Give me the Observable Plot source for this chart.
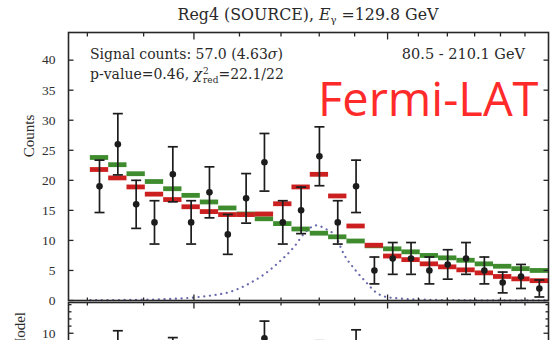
<!DOCTYPE html>
<html><head><meta charset="utf-8">
<script src="https://cdn.jsdelivr.net/npm/d3@7"></script>
<script src="https://cdn.jsdelivr.net/npm/@observablehq/plot@0.6"></script>
<style>
body{margin:0;background:#fff;}
#wrap{position:relative;width:559px;height:340px;overflow:hidden;background:#fff;font-family:"DejaVu Serif",serif;color:#2a2a2a;}
.abs{position:absolute;white-space:nowrap;line-height:1;}
.ss{display:inline-block;vertical-align:-4px;line-height:9px;font-size:9px;text-align:left;margin-left:1px;}
</style></head><body>
<div id="wrap">
  <div id="top" class="abs" style="left:0;top:0"></div>
  <div id="bottom" class="abs" style="left:0;top:299px"></div>
  <div class="abs" id="title" style="left:308px;top:7px;font-size:15.8px;transform:translateX(-50%)">Reg4 (SOURCE), <i>E</i><span style="font-size:10px;position:relative;top:3px">γ</span> =129.8 GeV</div>
  <div class="abs" style="left:90px;top:47px;font-size:14px">Signal counts: 57.0 (4.63<i>σ</i>)</div>
  <div class="abs" style="left:90px;top:67px;font-size:14px">p-value=0.46, <i>χ</i><span class="ss">2<br>red</span>=22.1/22</div>
  <div class="abs" style="right:34px;top:47px;font-size:14.5px">80.5 - 210.1 GeV</div>
  <div class="abs" style="left:318px;top:75px;font-size:47px;font-family:'Open Sans',sans-serif;color:#ff2a2a">Fermi-LAT</div>
  <div class="abs" style="left:29px;top:136px;font-size:15px;font-family:'Liberation Serif',serif;transform:translate(-50%,-50%) rotate(-90deg)">Counts</div>
  <div class="abs" style="left:20px;top:352px;font-size:15px;font-family:'Liberation Serif',serif;transform:translate(-50%,-50%) rotate(-90deg)">Data - Model</div>
</div>
<script>
// ---- data ----
const energyRange = [80.5, 210.1];           // GeV, bin range
const xDomain = [76.9, 210.1];               // GeV, axis range
const counts   = [19, 26, 16, 13, 21, 13, 18, 11, 17, 23, 13, 15, 24, 13, 19, 5, 7, 7, 5, 6, 7, 5, 3, 4, 2];
const bkgModel = [23.8, 22.6, 21.1, 19.8, 18.6, 17.5, 16.4, 15.4, 14.4, 13.6, 12.8, 11.9, 11.2, 10.6, 9.9, 9.1, 8.6, 8.1, 7.5, 7.1, 6.7, 6.1, 5.7, 5.3, 5.0];
const fitModel = [21.8, 20.4, 18.9, 17.7, 16.8, 15.6, 14.8, 14.3, 14.3, 14.4, 16.1, 18.9, 21.0, 17.4, 12.4, 9.2, 7.4, 6.8, 6.1, 5.6, 5.1, 4.6, 4.0, 3.6, 3.3];
const signalE  = [80.5, 87.4, 93.0, 99.9, 104.3, 107.7, 112.2, 115.3, 119.5, 123.3, 125.9, 129.1, 131.8, 134.6, 136.8, 140.3, 143.3, 146.3, 149.4, 153.5, 163.4, 180, 210.1];
const signalV  = [0.05, 0.1, 0.2, 0.5, 0.9, 1.4, 2.8, 4.1, 6.4, 8.9, 11.1, 12.5, 11.9, 10.6, 7.8, 5.0, 3.1, 1.4, 0.6, 0.35, 0.12, 0.04, 0.02];
const xTicks   = [80, 90, 100, 110, 120, 130, 140, 150, 160, 170, 180, 190, 200];
const xMajor   = [100, 150];
const yTicks   = [0, 5, 10, 15, 20, 25, 30, 35, 40];
const resTicks = [10];
const resMinor = [12, 14, 16, 18];

const nBins = counts.length;
const edges = d3.range(nBins + 1).map(i => energyRange[0] * Math.pow(energyRange[1] / energyRange[0], i / nBins));
const bins = counts.map((n, i) => ({
  lo: edges[i], hi: edges[i + 1], c: Math.sqrt(edges[i] * edges[i + 1]),
  n, err: Math.sqrt(n), bkg: bkgModel[i], fit: fitModel[i], res: n - fitModel[i]
}));
const signal = signalE.map((e, i) => ({e, v: signalV[i]}));
const xMinor = xTicks.filter(t => !xMajor.includes(t));

const hSeg = (a, b) => ({draw(ctx) { ctx.moveTo(a, 0); ctx.lineTo(b, 0); }});
const vSeg = (a, b) => ({draw(ctx) { ctx.moveTo(0, a); ctx.lineTo(0, b); }});
const ink = "#1c1c1c", frameInk = "#262626";
const tk = (data, opts) => Plot.dot(data, {stroke: frameInk, strokeWidth: 1.3, fill: "none", ...opts});
const style = {fontFamily: "'Liberation Serif', serif", color: "#2e2e2e", background: "transparent", overflow: "visible"};

const topPlot = Plot.plot({
  width: 559, height: 301, marginLeft: 68, marginRight: 11, marginTop: 32, marginBottom: 1,
  style,
  x: {type: "log", domain: xDomain, axis: null, label: null},
  y: {domain: [0, 44.6], label: null},
  marks: [
    Plot.line(signal, {x: "e", y: "v", curve: "monotone-x", stroke: "#6a6aae", strokeWidth: 2.2, strokeDasharray: "0.1 5.6", strokeLinecap: "round"}),
    Plot.ruleY(bins, {x1: "lo", x2: "hi", y: "bkg", stroke: "#3f8c2f", strokeWidth: 4.8}),
    Plot.ruleY(bins, {x1: "lo", x2: "hi", y: "fit", stroke: "#cc2020", strokeWidth: 4.8}),
    Plot.ruleX(bins, {x: "c", y1: d => d.n - d.err, y2: d => d.n + d.err, stroke: ink, strokeWidth: 1.7}),
    Plot.dot(bins, {x: "c", y: d => d.n + d.err, symbol: hSeg(-5, 5), stroke: ink, strokeWidth: 1.7, fill: "none"}),
    Plot.dot(bins, {x: "c", y: d => d.n - d.err, symbol: hSeg(-5, 5), stroke: ink, strokeWidth: 1.7, fill: "none"}),
    Plot.dot(bins, {x: "c", y: "n", r: 3.3, fill: ink}),
    Plot.axisY(yTicks, {tickSize: 0, tickPadding: 13, fontSize: 13.5, label: null}),
    tk(yTicks, {y: d => d, frameAnchor: "left", symbol: hSeg(0, 5)}),
    tk(yTicks, {y: d => d, frameAnchor: "right", symbol: hSeg(-5, 0)}),
    tk(xMinor, {x: d => d, frameAnchor: "top", symbol: vSeg(0, 4)}),
    tk(xMajor, {x: d => d, frameAnchor: "top", symbol: vSeg(0, 7)}),
    tk(xMinor, {x: d => d, frameAnchor: "bottom", symbol: vSeg(-3, 0)}),
    tk(xMajor, {x: d => d, frameAnchor: "bottom", symbol: vSeg(-6, 0)}),
    Plot.frame({stroke: frameInk, strokeWidth: 1.6})
  ]
});
document.getElementById("top").append(topPlot);

const bottomPlot = Plot.plot({
  width: 559, height: 161, marginLeft: 68, marginRight: 11, marginTop: 3, marginBottom: 20,
  style,
  x: {type: "log", domain: xDomain, axis: null, label: null},
  y: {domain: [-20, 18.6], label: null},
  marks: [
    Plot.ruleX(bins, {x: "c", y1: d => d.res - d.err, y2: d => d.res + d.err, stroke: ink, strokeWidth: 1.7}),
    Plot.dot(bins, {x: "c", y: d => d.res + d.err, symbol: hSeg(-5, 5), stroke: ink, strokeWidth: 1.7, fill: "none"}),
    Plot.dot(bins, {x: "c", y: d => d.res - d.err, symbol: hSeg(-5, 5), stroke: ink, strokeWidth: 1.7, fill: "none"}),
    Plot.dot(bins, {x: "c", y: "res", r: 3.3, fill: ink}),
    Plot.axisY(resTicks, {tickSize: 0, tickPadding: 13, fontSize: 13.5, label: null}),
    tk(resTicks, {y: d => d, frameAnchor: "left", symbol: hSeg(0, 5)}),
    tk(resMinor, {y: d => d, frameAnchor: "left", symbol: hSeg(0, 3)}),
    tk(resTicks, {y: d => d, frameAnchor: "right", symbol: hSeg(-5, 0)}),
    tk(resMinor, {y: d => d, frameAnchor: "right", symbol: hSeg(-3, 0)}),
    tk(xMinor, {x: d => d, frameAnchor: "top", symbol: vSeg(0, 3)}),
    tk(xMajor, {x: d => d, frameAnchor: "top", symbol: vSeg(0, 6)}),
    Plot.frame({stroke: frameInk, strokeWidth: 1.6})
  ]
});
document.getElementById("bottom").append(bottomPlot);
</script>
</body></html>
